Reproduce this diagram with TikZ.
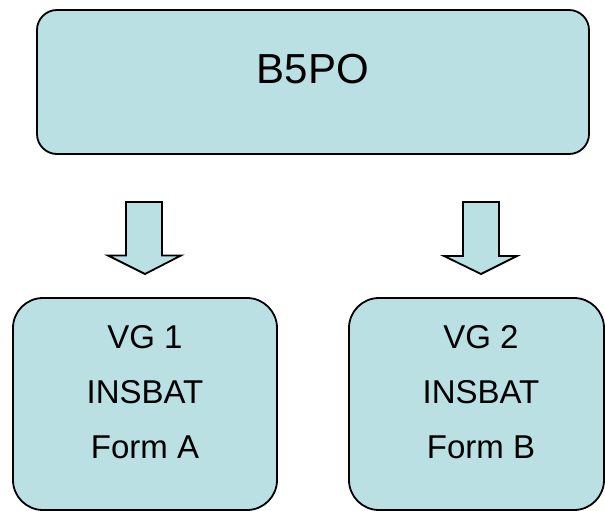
\documentclass[tikz,border=0pt]{standalone}
\usepackage{fontspec}
\setmainfont{Liberation Sans}
\definecolor{boxfill}{RGB}{187,224,227}
\begin{document}
\begin{tikzpicture}[x=1pt,y=-1pt,
  box/.style={draw=black, line width=1.8pt, fill=boxfill, inner sep=0pt, outer sep=0pt},
  blockarrow/.style={draw=black, line width=1.8pt, fill=boxfill, line join=miter},
  lbl/.style={anchor=base, inner sep=0pt, font=\fontsize{33}{39}\selectfont},
  bigl/.style={anchor=base, inner sep=0pt, font=\fontsize{42}{50}\selectfont}]
\useasboundingbox (0,0) rectangle (605,511);
\clip (0,0) rectangle (605,511);
\node[box, rounded corners=20pt, minimum width=552pt, minimum height=144pt] (top) at (313,82) {};
\node[box, rounded corners=30pt, minimum width=264pt, minimum height=212pt] (left) at (145,404) {};
\node[box, rounded corners=30pt, minimum width=255pt, minimum height=212pt] (right) at (476.5,404) {};
\node[bigl] (t0) at (313,84) {B5PO};
\node[lbl] (l1) at (145,348.3) {VG 1};
\node[lbl] (l2) at (145,403.3) {INSBAT};
\node[lbl] (l3) at (145,458.3) {Form A};
\node[lbl] (r1) at (481,348.3) {VG 2};
\node[lbl] (r2) at (481,403.3) {INSBAT};
\node[lbl] (r3) at (481,458.3) {Form B};
\draw[blockarrow] (126,202) -- (162,202) -- (162,255.5) -- (181,255.5) -- (145,274) -- (108,255.5) -- (126,255.5) -- cycle;
\draw[blockarrow] (463,202) -- (499,202) -- (499,256) -- (517,256) -- (481,274) -- (444,256) -- (463,256) -- cycle;
\end{tikzpicture}
\end{document}
